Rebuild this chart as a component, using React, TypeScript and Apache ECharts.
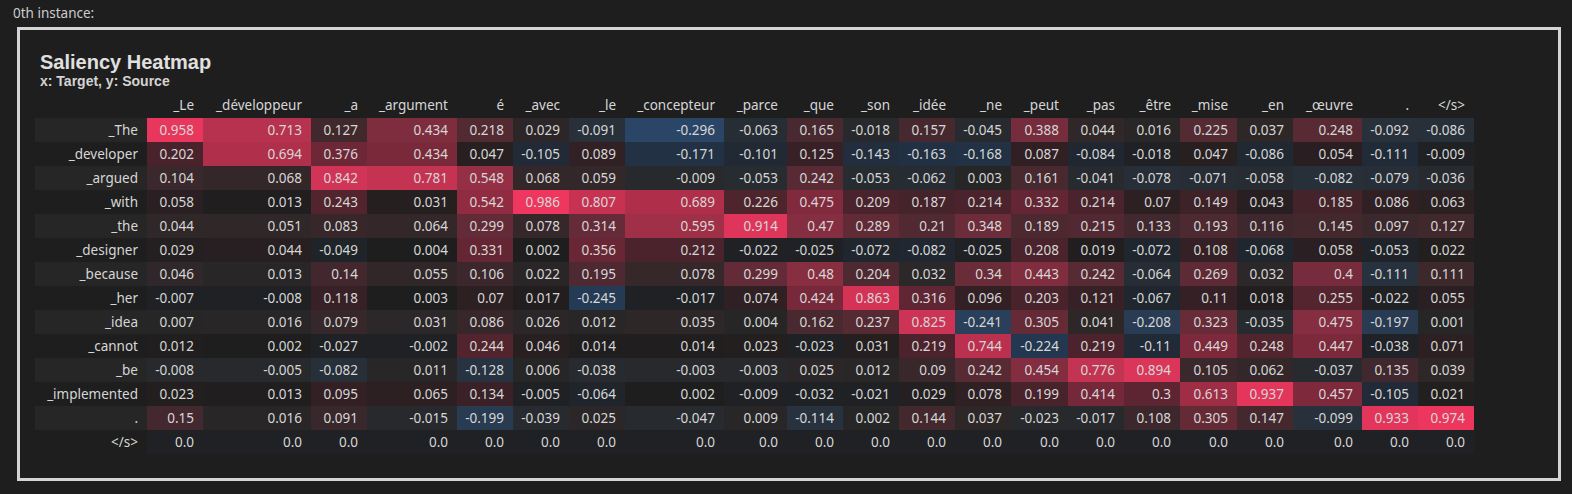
import React, { useEffect, useRef } from "react";
import * as echarts from "echarts";

const TARGET_TOKENS = ["_Le", "_développeur", "_a", "_argument", "é", "_avec", "_le", "_concepteur", "_parce", "_que", "_son", "_idée", "_ne", "_peut", "_pas", "_être", "_mise", "_en", "_œuvre", ".", "</s>"];
const SOURCE_TOKENS = ["_The", "_developer", "_argued", "_with", "_the", "_designer", "_because", "_her", "_idea", "_cannot", "_be", "_implemented", ".", "</s>"];

const ROW_THE = [0.958, 0.713, 0.127, 0.434, 0.218, 0.029, -0.091, -0.296, -0.063, 0.165, -0.018, 0.157, -0.045, 0.388, 0.044, 0.016, 0.225, 0.037, 0.248, -0.092, -0.086];
const ROW_DEVELOPER = [0.202, 0.694, 0.376, 0.434, 0.047, -0.105, 0.089, -0.171, -0.101, 0.125, -0.143, -0.163, -0.168, 0.087, -0.084, -0.018, 0.047, -0.086, 0.054, -0.111, -0.009];
const ROW_ARGUED = [0.104, 0.068, 0.842, 0.781, 0.548, 0.068, 0.059, -0.009, -0.053, 0.242, -0.053, -0.062, 0.003, 0.161, -0.041, -0.078, -0.071, -0.058, -0.082, -0.079, -0.036];
const ROW_WITH = [0.058, 0.013, 0.243, 0.031, 0.542, 0.986, 0.807, 0.689, 0.226, 0.475, 0.209, 0.187, 0.214, 0.332, 0.214, 0.07, 0.149, 0.043, 0.185, 0.086, 0.063];
const ROW_THE2 = [0.044, 0.051, 0.083, 0.064, 0.299, 0.078, 0.314, 0.595, 0.914, 0.47, 0.289, 0.21, 0.348, 0.189, 0.215, 0.133, 0.193, 0.116, 0.145, 0.097, 0.127];
const ROW_DESIGNER = [0.029, 0.044, -0.049, 0.004, 0.331, 0.002, 0.356, 0.212, -0.022, -0.025, -0.072, -0.082, -0.025, 0.208, 0.019, -0.072, 0.108, -0.068, 0.058, -0.053, 0.022];
const ROW_BECAUSE = [0.046, 0.013, 0.14, 0.055, 0.106, 0.022, 0.195, 0.078, 0.299, 0.48, 0.204, 0.032, 0.34, 0.443, 0.242, -0.064, 0.269, 0.032, 0.4, -0.111, 0.111];
const ROW_HER = [-0.007, -0.008, 0.118, 0.003, 0.07, 0.017, -0.245, -0.017, 0.074, 0.424, 0.863, 0.316, 0.096, 0.203, 0.121, -0.067, 0.11, 0.018, 0.255, -0.022, 0.055];
const ROW_IDEA = [0.007, 0.016, 0.079, 0.031, 0.086, 0.026, 0.012, 0.035, 0.004, 0.162, 0.237, 0.825, -0.241, 0.305, 0.041, -0.208, 0.323, -0.035, 0.475, -0.197, 0.001];
const ROW_CANNOT = [0.012, 0.002, -0.027, -0.002, 0.244, 0.046, 0.014, 0.014, 0.023, -0.023, 0.031, 0.219, 0.744, -0.224, 0.219, -0.11, 0.449, 0.248, 0.447, -0.038, 0.071];
const ROW_BE = [-0.008, -0.005, -0.082, 0.011, -0.128, 0.006, -0.038, -0.003, -0.003, 0.025, 0.012, 0.09, 0.242, 0.454, 0.776, 0.894, 0.105, 0.062, -0.037, 0.135, 0.039];
const ROW_IMPLEMENTED = [0.023, 0.013, 0.095, 0.065, 0.134, -0.005, -0.064, 0.002, -0.009, -0.032, -0.021, 0.029, 0.078, 0.199, 0.414, 0.3, 0.613, 0.937, 0.457, -0.105, 0.021];
const ROW_PERIOD = [0.15, 0.016, 0.091, -0.015, -0.199, -0.039, 0.025, -0.047, 0.009, -0.114, 0.002, 0.144, 0.037, -0.023, -0.017, 0.108, 0.305, 0.147, -0.099, 0.933, 0.974];
const ROW_EOS = [0.0, 0.0, 0.0, 0.0, 0.0, 0.0, 0.0, 0.0, 0.0, 0.0, 0.0, 0.0, 0.0, 0.0, 0.0, 0.0, 0.0, 0.0, 0.0, 0.0, 0.0];

const MATRIX = [ROW_THE, ROW_DEVELOPER, ROW_ARGUED, ROW_WITH, ROW_THE2, ROW_DESIGNER, ROW_BECAUSE, ROW_HER, ROW_IDEA, ROW_CANNOT, ROW_BE, ROW_IMPLEMENTED, ROW_PERIOD, ROW_EOS];

// layout (column widths in pixels, as rendered by the table)
const COL_WIDTHS = [56, 108, 56, 90, 56, 56, 56, 99, 63, 56, 56, 56, 56, 57, 56, 56, 57, 56, 69, 56, 56];
const LABEL_COL_WIDTH = 112;
const PAD = 9;

const FONT = '"Noto Sans", "Open Sans", sans-serif';
const TEXT_COLOR = "#d6d6d6";
const PAGE_BG = "#1e1e1e";
const ROW_BG_EVEN = [38, 38, 38];
const ROW_BG_ODD = [30, 30, 30];
const RED = [238, 54, 94];
const BLUE = [55, 141, 251];

function fmt(v: number): string {
  return Number.isInteger(v) ? v.toFixed(1) : String(v);
}

export default function App() {
  const ref = useRef<HTMLDivElement>(null);

  useEffect(() => {
    document.body.style.margin = "0";
    document.body.style.background = PAGE_BG;
    if (!ref.current) return;
    const chart = echarts.init(ref.current, null, { renderer: "svg" });

    const cum: number[] = [0];
    COL_WIDTHS.forEach((w, i) => cum.push(cum[i] + w));
    const total = cum[cum.length - 1];

    let vmax = 0;
    MATRIX.forEach((r) => r.forEach((v) => (vmax = Math.max(vmax, Math.abs(v)))));

    const cellColor = (v: number, row: number) => {
      const bg = row % 2 === 0 ? ROW_BG_EVEN : ROW_BG_ODD;
      let target = RED;
      let t = v / vmax;
      if (v <= 0) {
        target = BLUE;
        t = Math.max(Math.abs(v) / vmax, 0.03);
      }
      t = Math.min(1, t);
      const c = bg.map((b, i) => Math.round(b + (target[i] - b) * t));
      return `rgb(${c[0]},${c[1]},${c[2]})`;
    };

    const cellData: number[][] = [];
    MATRIX.forEach((r, ri) => r.forEach((v, ci) => cellData.push([ci, ri, v])));

    const option: any = {
      animation: false,
      backgroundColor: PAGE_BG,
      grid: { left: 35, top: 118, width: LABEL_COL_WIDTH + total, height: 336 },
      xAxis: { type: "value", min: -LABEL_COL_WIDTH, max: total, show: false },
      yAxis: { type: "category", data: SOURCE_TOKENS, inverse: true, show: false },
      graphic: [
        { type: "text", left: 13, top: 6, style: { text: "0th instance:", fill: "#cccccc", font: `13.5px ${FONT}` } },
        { type: "rect", shape: { x: 18.5, y: 28.5, width: 1541, height: 451 }, style: { fill: "none", stroke: "#d4d4d4", lineWidth: 3 } },
        { type: "text", x: 40, y: 62, style: { text: "Saliency Heatmap", fill: "#e0e0e0", font: 'bold 20px "Liberation Sans", Arial, sans-serif', verticalAlign: "middle" } },
        { type: "text", x: 40, y: 81, style: { text: "x: Target, y: Source", fill: "#d4d4d4", font: 'bold 14px "Liberation Sans", Arial, sans-serif', verticalAlign: "middle" } },
      ],
      series: [
        {
          type: "custom",
          name: "rowLabels",
          data: SOURCE_TOKENS.map((_, i) => [-LABEL_COL_WIDTH, i]),
          renderItem: (params: any, api: any) => {
            const row = api.value(1);
            const p0 = api.coord([-LABEL_COL_WIDTH, row]);
            const p1 = api.coord([0, row]);
            const h = api.size([0, 1])[1];
            const bg = row % 2 === 0 ? ROW_BG_EVEN : ROW_BG_ODD;
            return {
              type: "group",
              children: [
                { type: "rect", shape: { x: p0[0], y: p0[1] - h / 2, width: p1[0] - p0[0], height: h }, style: { fill: `rgb(${bg.join(",")})` } },
                { type: "text", style: { x: p1[0] - PAD, y: p1[1], text: SOURCE_TOKENS[row], align: "right", verticalAlign: "middle", fill: TEXT_COLOR, font: `13.5px ${FONT}` } },
              ],
            };
          },
        },
        {
          type: "custom",
          name: "header",
          data: TARGET_TOKENS.map((_, i) => [i, 0]),
          renderItem: (params: any, api: any) => {
            const col = api.value(0);
            const p = api.coord([cum[col + 1], 0]);
            return {
              type: "text",
              style: { x: p[0] - PAD, y: p[1] - 25, text: TARGET_TOKENS[col], align: "right", verticalAlign: "middle", fill: TEXT_COLOR, font: `13.5px ${FONT}` },
            };
          },
        },
        {
          type: "custom",
          name: "cells",
          data: cellData,
          renderItem: (params: any, api: any) => {
            const col = api.value(0);
            const row = api.value(1);
            const v = api.value(2);
            const p0 = api.coord([cum[col], row]);
            const p1 = api.coord([cum[col + 1], row]);
            const h = api.size([0, 1])[1];
            return {
              type: "group",
              children: [
                { type: "rect", shape: { x: p0[0], y: p0[1] - h / 2, width: p1[0] - p0[0], height: h }, style: { fill: cellColor(v, row) } },
                { type: "text", style: { x: p1[0] - PAD, y: p1[1], text: fmt(v), align: "right", verticalAlign: "middle", fill: TEXT_COLOR, font: `13.5px ${FONT}` } },
              ],
            };
          },
        },
      ],
    };

    chart.setOption(option);
    return () => chart.dispose();
  }, []);

  return <div ref={ref} style={{ width: 1572, height: 494 }} />;
}
